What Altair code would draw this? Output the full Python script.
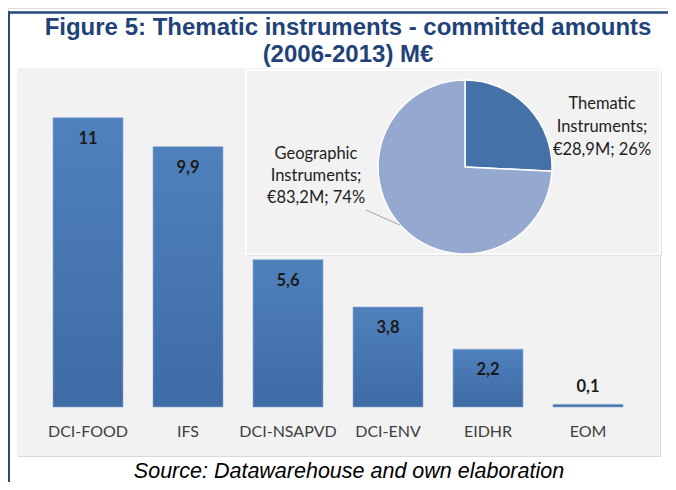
import altair as alt
import pandas as pd

# ---- data ----
categories = ["DCI-FOOD", "IFS", "DCI-NSAPVD", "DCI-ENV", "EIDHR", "EOM"]
values = [11, 9.9, 5.6, 3.8, 2.2, 0.1]
value_labels = ["11", "9,9", "5,6", "3,8", "2,2", "0,1"]

pie_names = ["Thematic Instruments", "Geographic Instruments"]
pie_values = [28.9, 83.2]
pie_amount_labels = ["€28,9M", "€83,2M"]
pie_pct_labels = ["26%", "74%"]

title_lines = ["Figure 5: Thematic instruments - committed amounts", "(2006-2013) M€"]
source_text = "Source: Datawarehouse and own elaboration"

# ---- helpers (page coords -> plot coords) ----
W, H = 660, 474
def px(X):
    return X - 8
def py(Y):
    return Y - 8

bars_df = pd.DataFrame({"cat": categories, "val": values, "lab": value_labels})
bars_df["inside"] = bars_df["val"] > 1

pie_df = pd.DataFrame({
    "name": pie_names,
    "val": pie_values,
    "idx": list(range(len(pie_names))),
})
pie_df["label"] = [
    n.split(" ")[0] + "\n" + n.split(" ")[1] + ";\n" + a + "; " + p
    for n, a, p in zip(pie_names, pie_amount_labels, pie_pct_labels)
]

blank = pd.DataFrame({"a": [0]})

xscale = alt.Scale(domain=categories, range=[px(38), px(638)], paddingInner=0.3, paddingOuter=0.15)
yscale = alt.Scale(domain=[0, 11], range=[py(407), py(407 - 11 * 26.3)], nice=False, zero=True)

def rect(x1, x2, y1, y2, fill, stroke=None, sw=0):
    kw = dict(fill=fill)
    if stroke:
        kw.update(stroke=stroke, strokeWidth=sw)
    return alt.Chart(blank).mark_rect(**kw).encode(
        x=alt.value(px(x1)), x2=alt.value(px(x2)), y=alt.value(py(y1)), y2=alt.value(py(y2))
    )

shadow = rect(18, 661, 69, 457, "#D9D9D9")
panel = rect(17, 660, 68, 456, "#F2F2F2")
pie_shadow = rect(247, 662, 71, 256, "#E4E4E4")
pie_panel = rect(246, 660, 70, 254, "#F2F2F2", "#FFFFFF", 1.5)

grad = alt.Gradient(
    gradient="linear",
    stops=[alt.GradientStop(color="#4F81BD", offset=0), alt.GradientStop(color="#3F6BA6", offset=1)],
    x1=0, x2=0, y1=0, y2=1,
)

bars = alt.Chart(bars_df).mark_bar(color=grad, stroke="#8FA9D0", strokeWidth=0.6).encode(
    x=alt.X("cat:N", scale=xscale, axis=None, sort=categories),
    y=alt.Y("val:Q", scale=yscale, axis=None),
)

lab_in = alt.Chart(bars_df).transform_filter("datum.inside").mark_text(
    font="Lato", fontSize=16.5, fontWeight="bold", color="#1A1A1A", baseline="middle", dy=21
).encode(
    x=alt.X("cat:N", scale=xscale, axis=None, sort=categories),
    y=alt.Y("val:Q", scale=yscale, axis=None),
    text="lab:N",
)
lab_out = alt.Chart(bars_df).transform_filter("!datum.inside").mark_text(
    font="Lato", fontSize=16.5, fontWeight="bold", color="#1A1A1A", baseline="middle", dy=-17
).encode(
    x=alt.X("cat:N", scale=xscale, axis=None, sort=categories),
    y=alt.Y("val:Q", scale=yscale, axis=None),
    text="lab:N",
)

xlabels = alt.Chart(bars_df).mark_text(
    font="Lato", fontSize=16, color="#404040", baseline="middle"
).encode(
    x=alt.X("cat:N", scale=xscale, axis=None, sort=categories),
    y=alt.value(py(432)),
    text="cat:N",
)

pie = alt.Chart(pie_df).mark_arc(outerRadius=87, stroke="white", strokeWidth=1.5).encode(
    theta=alt.Theta("val:Q", stack=True),
    order=alt.Order("idx:Q"),
    color=alt.Color("name:N", scale=alt.Scale(domain=pie_names, range=["#4471A7", "#95A9D0"]), legend=None),
    x=alt.value(px(465)),
    y=alt.value(py(167)),
)

leader = alt.Chart(blank).mark_rule(color="#A6A6A6", strokeWidth=1).encode(
    x=alt.value(px(366)), y=alt.value(py(210)), x2=alt.value(px(400)), y2=alt.value(py(225))
)

pie_lab_t = alt.Chart(pie_df).transform_filter("datum.idx == 0").mark_text(
    font="Lato", fontSize=16.5, color="#1E1E1E", baseline="middle", align="center", lineBreak="\n", lineHeight=23
).encode(x=alt.value(px(602)), y=alt.value(py(104)), text="label:N")
pie_lab_g = alt.Chart(pie_df).transform_filter("datum.idx == 1").mark_text(
    font="Lato", fontSize=16.5, color="#1E1E1E", baseline="middle", align="center", lineBreak="\n", lineHeight=22
).encode(x=alt.value(px(316)), y=alt.value(py(154)), text="label:N")

title_df = pd.DataFrame({"t": title_lines, "i": [0, 1]})
title1 = alt.Chart(title_df).transform_filter("datum.i == 0").mark_text(
    font="Liberation Sans", fontSize=24, fontWeight="bold", color="#1F4378", align="center", baseline="alphabetic"
).encode(x=alt.value(px(348)), y=alt.value(py(35)), text="t:N")
title2 = alt.Chart(title_df).transform_filter("datum.i == 1").mark_text(
    font="Liberation Sans", fontSize=24, fontWeight="bold", color="#1F4378", align="center", baseline="alphabetic"
).encode(x=alt.value(px(348)), y=alt.value(py(62)), text="t:N")

source = alt.Chart(pd.DataFrame({"t": [source_text]})).mark_text(
    font="Liberation Sans", fontSize=21.5, fontStyle="italic", color="#000000", align="center", baseline="alphabetic"
).encode(x=alt.value(px(349)), y=alt.value(py(478)), text="t:N")

border_top = rect(8, 668, 11.3, 13.7, "#24497C")
border_left = rect(8, 10, 11.3, 482, "#24497C")

chart = alt.layer(
    shadow, panel, pie_shadow, pie_panel,
    bars, lab_in, lab_out, xlabels,
    pie, leader, pie_lab_t, pie_lab_g,
    title1, title2, source, border_top, border_left,
).resolve_scale(color="independent").properties(
    width=W, height=H,
    autosize=alt.AutoSizeParams(type="none"),
    padding=0,
).configure_view(stroke=None).configure(background="white")

chart.save("out.html", embed_options={"renderer": "svg", "actions": False})
